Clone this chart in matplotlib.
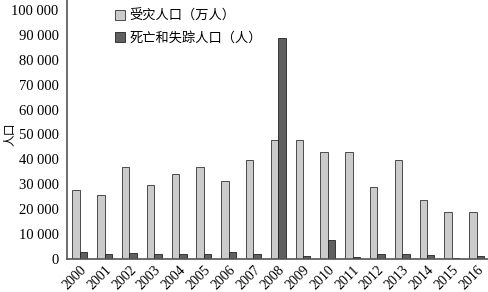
import numpy as np
from matplotlib import pyplot as plt

years = [str(y) for y in range(2000, 2017)]
affected = [27700, 25700, 36800, 29700, 34000, 37100, 31400, 39800, 47800,
            47900, 42800, 42800, 28800, 39800, 23700, 18900, 18900]
dead_missing = [2700, 2000, 2500, 2000, 2000, 2000, 2700, 2000, 88700,
                1100, 7500, 800, 1900, 1900, 1500, 500, 1200]

plt.rcParams['font.family'] = ['Liberation Serif', 'Noto Sans CJK SC']

fig = plt.figure(figsize=(4.89, 2.92), dpi=100)
ax = fig.add_axes([0.137, 0.113, 0.863, 0.887])

x = np.arange(len(years))
w = 0.3
ax.bar(x - w / 2, affected, width=w, color='#cbcbcb', edgecolor='#333333',
       linewidth=0.6, label='受灾人口（万人）')
ax.bar(x + w / 2, dead_missing, width=w, color='#606060', edgecolor='#222222',
       linewidth=0.6, label='死亡和失踪人口（人）')

ax.set_xlim(-0.52, 16.5)
ax.set_ylim(0, 104000)
ticks = range(0, 100001, 10000)
ax.set_yticks(list(ticks))
ax.set_yticklabels(['{:,}'.format(t).replace(',', ' ') for t in ticks], fontsize=10.5)
ax.set_xticks(x)
ax.set_xticklabels(years, rotation=45, ha='right', rotation_mode='anchor', fontsize=10)
ax.tick_params(axis='y', length=0, pad=6)
ax.tick_params(axis='x', length=0, pad=3)

for s in ['top', 'right']:
    ax.spines[s].set_visible(False)
for s in ['left', 'bottom']:
    ax.spines[s].set_color('#555555')
    ax.spines[s].set_linewidth(1.2)

ax.set_ylabel('人口', family=['Noto Sans CJK SC'], fontsize=8.5)
ax.yaxis.set_label_coords(-0.12, 0.48)

ax.legend(loc='upper left', bbox_to_anchor=(0.085, 1.01), frameon=False,
          prop={'family': ['Noto Sans CJK SC'], 'size': 9.5},
          handlelength=0.8, handleheight=0.8, handletextpad=0.3, labelspacing=0.7)

fig.savefig('out.png', dpi=100)
